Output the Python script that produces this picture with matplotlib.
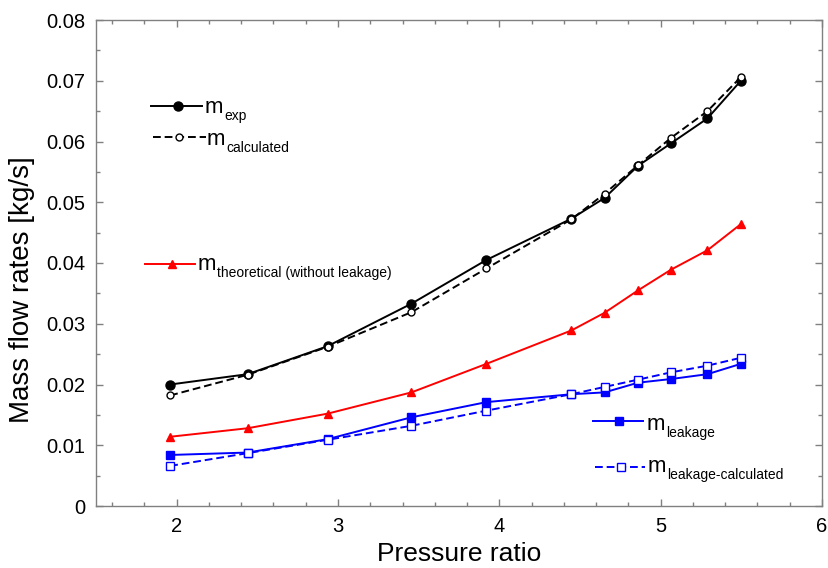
import matplotlib
matplotlib.use("Agg")
import matplotlib.pyplot as plt
from matplotlib.lines import Line2D
from matplotlib.ticker import MultipleLocator

plt.rcParams['font.family'] = ['Liberation Sans', 'DejaVu Sans']

# ---- data ----
pressure_ratio = [1.96, 2.44, 2.935, 3.455, 3.92, 4.447, 4.652, 4.86, 5.064, 5.29, 5.497]
m_exp = [0.0200, 0.0217, 0.0263, 0.0333, 0.0405, 0.0473, 0.0507, 0.0560, 0.0597, 0.0638, 0.0700]
m_calculated = [0.0182, 0.0216, 0.0262, 0.0319, 0.0391, 0.0472, 0.0514, 0.0561, 0.0606, 0.0650, 0.0706]
m_theoretical = [0.0114, 0.0128, 0.0152, 0.0187, 0.0234, 0.0289, 0.0318, 0.0355, 0.0389, 0.0421, 0.0464]
m_leakage = [0.0084, 0.0088, 0.0110, 0.0146, 0.0171, 0.0184, 0.0187, 0.0203, 0.0209, 0.0217, 0.0234]
m_leakage_calc = [0.0066, 0.0087, 0.0109, 0.0132, 0.0157, 0.0184, 0.0196, 0.0208, 0.0220, 0.0231, 0.0244]

x_ticks = [2, 3, 4, 5, 6]
y_ticks = [0, 0.01, 0.02, 0.03, 0.04, 0.05, 0.06, 0.07, 0.08]

W, H = 829, 568
fig = plt.figure(figsize=(W / 100, H / 100), dpi=100)
ax = fig.add_axes([96 / W, 1 - 506 / H, (822 - 96) / W, (506 - 20) / H])

RED = '#ff0000'
BLUE = '#0000ff'
lw = 1.4
dash = (0, (4, 2))

ax.plot(pressure_ratio, m_exp, color='black', lw=lw, marker='o', ms=6.5,
        mfc='black', mec='black', zorder=3)
ax.plot(pressure_ratio, m_calculated, color='black', lw=lw, ls=dash, marker='o', ms=5,
        mfc='white', mec='black', mew=1, zorder=4)
ax.plot(pressure_ratio, m_theoretical, color=RED, lw=lw, marker='^', ms=5.5,
        mfc=RED, mec=RED, zorder=3)
ax.plot(pressure_ratio, m_leakage, color=BLUE, lw=lw, marker='s', ms=5.5,
        mfc=BLUE, mec=BLUE, zorder=3)
ax.plot(pressure_ratio, m_leakage_calc, color=BLUE, lw=lw, ls=dash, marker='s', ms=5.5,
        mfc='white', mec=BLUE, mew=1, zorder=4)

ax.set_xlim(1.5, 6)
ax.set_ylim(0, 0.08)
ax.set_xticks(x_ticks)
ax.set_yticks(y_ticks)
ax.xaxis.set_minor_locator(MultipleLocator(0.2))
ax.yaxis.set_minor_locator(MultipleLocator(0.005))
ax.set_yticklabels(['0' if v == 0 else f'{v:.2f}' for v in y_ticks])
ax.set_xticklabels([str(v) for v in x_ticks])

gray = '#808080'
for s in ax.spines.values():
    s.set_color(gray)
    s.set_linewidth(1.0)
ax.tick_params(which='both', direction='in', top=True, right=True, color=gray,
               labelsize=14.5, labelcolor='black')
ax.tick_params(which='major', length=5, width=1, pad=8)
ax.tick_params(which='minor', length=3, width=1)

ax.set_xlabel('Pressure ratio', fontsize=19, labelpad=4)
ax.set_ylabel('Mass flow rates [kg/s]', fontsize=20)
ax.yaxis.set_label_coords(-0.084, 0.446)


def px(x, y):
    return x / W, 1 - y / H


def legend_entry(x0, x1, y, xm, color, ls, marker, ms, mfc, tx, tby, sub):
    a, b = px(x0, y)
    c, _ = px(x1, y)
    fig.add_artist(Line2D([a, c], [b, b], color=color, lw=lw, ls=ls,
                          transform=fig.transFigure))
    mx, my = px(xm, y)
    fig.add_artist(Line2D([mx], [my], color=color, marker=marker, ms=ms, mfc=mfc,
                          mec=color, mew=1, ls='none', transform=fig.transFigure))
    tx_, ty_ = px(tx, tby)
    t = fig.text(tx_, ty_, 'm', fontsize=16, ha='left', va='baseline')
    ax.annotate(sub, xy=(1, 0), xycoords=t, xytext=(0.5, -3.5),
                textcoords='offset points', fontsize=10, ha='left', va='bottom',
                annotation_clip=False)


legend_entry(151, 202, 105.7, 178, 'black', '-', 'o', 6.5, 'black', 205, 113, 'exp')
legend_entry(153, 206, 136.7, 179, 'black', dash, 'o', 5, 'white', 207, 145, 'calculated')
legend_entry(145, 195, 264, 171.7, RED, '-', '^', 5.5, RED, 198, 270, 'theoretical (without leakage)')
legend_entry(593, 643, 420.7, 619, BLUE, '-', 's', 5.5, BLUE, 647, 430, 'leakage')
legend_entry(595, 645, 466.7, 621, BLUE, dash, 's', 5.5, 'white', 648, 472, 'leakage-calculated')

fig.savefig('out.png', dpi=100)
